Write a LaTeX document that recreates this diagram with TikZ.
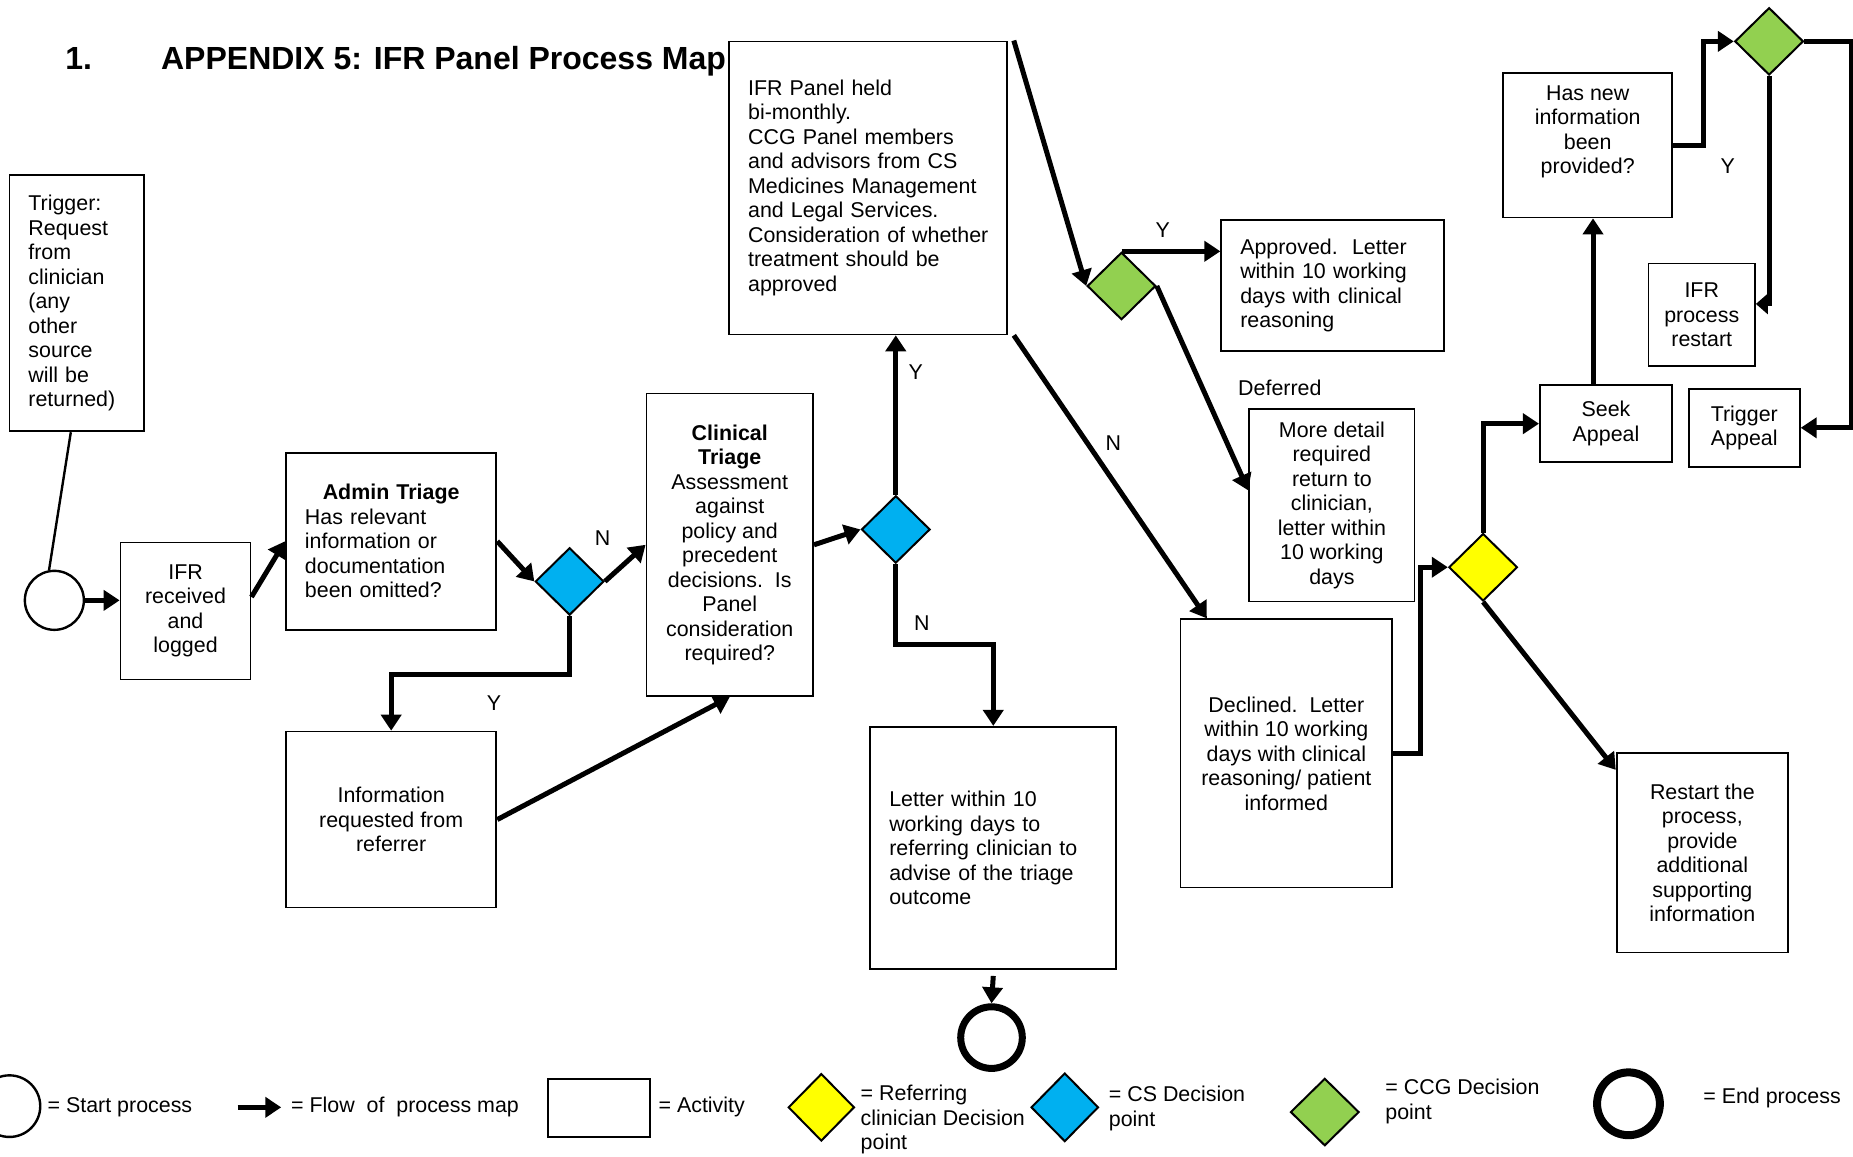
\documentclass[tikz,border=0pt]{standalone}
\usepackage{fontspec}
\setmainfont{Liberation Sans}
\usetikzlibrary{shapes.geometric,arrows.meta}
\definecolor{csblue}{HTML}{00B0F0}
\definecolor{ccggreen}{HTML}{92D050}
\definecolor{refyellow}{HTML}{FFFF00}
\tikzset{
  actbox/.style={draw, line width=0.9pt, rectangle, align=center, inner sep=0pt},
  lbox/.style={actbox, align=left, inner xsep=9.5pt, inner ysep=0pt},
  decision/.style={draw, line width=1pt, diamond, inner sep=0pt, minimum width=34.3pt, minimum height=33.7pt},
  flow/.style={line width=2.5pt, -{Triangle[length=8pt,width=10pt]}},
  thinline/.style={line width=1.2pt},
  titletext/.style={font=\fontsize{16}{19}\selectfont\bfseries, anchor=base west, inner sep=0pt},
}
\begin{document}
\begin{tikzpicture}[x={(0.5909pt,0pt)}, y={(0pt,-0.5909pt)},
  every node/.append style={font=\fontsize{10.7}{12.26}\selectfont, inner sep=0pt}]
\useasboundingbox (0,0) rectangle (1568,979);

% title
\node[titletext] (num) at (55,58.5) {1.};
\node[titletext] (title) at (136,58.5) {APPENDIX 5: IFR Panel Process Map};

% nodes
\node[lbox, text width=48.4pt, minimum height=128.2pt] (trigger) at (65,256.5)
  {Trigger:\\Request\\from\\clinician\\(any\\other\\source\\will be\\returned)};
\node[circle, draw, line width=1.2pt, minimum size=29.5pt] (start) at (46,508) {};
\node[actbox, minimum width=65pt, minimum height=68.5pt] (recv) at (157,517)
  {IFR\\received\\and\\logged};
\node[lbox, text width=86.2pt, minimum height=88.6pt] (admin) at (331,458)
  {\makebox[86.2pt]{\bfseries Admin Triage}\\Has relevant\\information or\\documentation\\been omitted?};
\node[decision, fill=csblue] (d1) at (482,492) {};
\node[actbox, minimum width=83.3pt, minimum height=151.3pt] (clin) at (617.5,461)
  {\textbf{Clinical}\\\textbf{Triage}\\Assessment\\against\\policy and\\precedent\\decisions.~~Is\\Panel\\consideration\\required?};
\node[decision, fill=csblue] (d2) at (758,448) {};
\node[lbox, text width=119.9pt, minimum height=146.5pt] (panel) at (734.5,159)
  {IFR Panel held\\bi-monthly.\\\mbox{CCG Panel members}\\\mbox{and advisors from CS}\\\mbox{Medicines Management}\\\mbox{and Legal Services.}\\\mbox{Consideration of whether}\\\mbox{treatment should be}\\approved};
\node[actbox, minimum width=105.2pt, minimum height=88pt] (info) at (331,693.5)
  {Information\\requested from\\referrer};
\node[lbox, text width=104pt, minimum height=121.1pt] (letter) at (840.5,717.5)
  {\mbox{Letter within 10}\\\mbox{working days to}\\\mbox{referring clinician to}\\\mbox{advise of the triage}\\outcome};
\node[circle, draw, line width=3.5pt, minimum size=30.8pt] (endc) at (839,878) {};
\node[decision, fill=ccggreen] (g1) at (949,242) {};
\node[lbox, text width=92.2pt, minimum height=65.6pt] (appr) at (1127.5,241.5)
  {\mbox{Approved.~~Letter}\\\mbox{within 10 working}\\\mbox{days with clinical}\\reasoning};
\node[actbox, minimum width=82.7pt, minimum height=96.3pt] (more) at (1127,427.5)
  {More detail\\required\\return to\\clinician,\\letter within\\10 working\\days};
\node[actbox, minimum width=105.8pt, minimum height=134.1pt] (decl) at (1088.5,637.5)
  {Declined.~~Letter\\within 10 working\\days with clinical\\reasoning/ patient\\informed};
\node[decision, fill=refyellow] (yd) at (1255,480) {};
\node[actbox, minimum width=66.2pt, minimum height=38.4pt] (seek) at (1359,358.5)
  {Seek\\Appeal};
\node[actbox, minimum width=84.5pt, minimum height=72.1pt] (hasnew) at (1343.5,123)
  {Has new\\information\\been\\provided?\\\strut};
\node[decision, fill=ccggreen] (g2) at (1497,35) {};
\node[actbox, minimum width=53.2pt, minimum height=51.4pt] (restart) at (1440,266.5)
  {IFR\\process\\restart};
\node[actbox, minimum width=55.5pt, minimum height=39pt] (trigapp) at (1476,362)
  {Trigger\\Appeal};
\node[actbox, minimum width=85.7pt, minimum height=99.9pt] (restart2) at (1440.5,721.5)
  {Restart the\\process,\\provide\\additional\\supporting\\information};

% connectors
\draw[thinline] ([xshift=-3pt]trigger.south) -- (start.100);
\draw[flow] (start.east) -- (start.east -| recv.west);
\draw[flow] ([yshift=7pt]recv.east) -- (admin.west);
\draw[flow] (admin.east) -- (d1.west);
\draw[flow] (d1.east) -- (clin.west);
\draw[flow] (d1.south) -- ++(0,49) -| (info.north);
\draw[flow] (info.east) -- (clin.south);
\draw[flow] (clin.east) -- (d2.west);
\draw[flow] (d2.north) -- (d2.north |- panel.south);
\draw[flow] (d2.south) -- ++(0,68) -| (letter.north);
\draw[flow] ([yshift=-3pt]letter.south) -- (endc.north);
\draw[flow] ([xshift=3pt]panel.north east) -- (g1.west);
\draw[flow] (g1.north) -- (g1.north -| appr.west);
\draw[flow] (g1.east) -- ([yshift=7.4pt]more.west);
\draw[flow] ([xshift=3pt]panel.south east) -- ([xshift=13.6pt]decl.north west);
\draw[flow] (decl.east) -- ++(23,0) |- (yd.west);
\draw[flow] (yd.north) |- (seek.west);
\draw[flow] (yd.south) -- ([yshift=-9pt]restart2.north west);
\coordinate (sk) at ([xshift=-6.5pt]seek.north);
\draw[flow] (sk) -- (sk |- hasnew.south);
\draw[flow] (hasnew.east) -- ++(26,0) |- (g2.west);
\draw[line width=2.5pt, -{Triangle[length=6pt,width=10pt]}] (g2.south) |- ([yshift=5.5pt]restart.east);
\draw[flow] (g2.east) -- ++(40,0) |- (trigapp.east);

% labels
\node (lN1) at (510,455) {N};
\node (lY1) at (418,595) {Y};
\node (lY2) at (775,315) {Y};
\node (lN2) at (780,527) {N};
\node (lY3) at (984,195) {Y};
\node (ldef) at (1083,328) {Deferred};
\node (lN3) at (942,375) {N};
\node (lY4) at (1462,141) {Y};

% legend
\node[circle, draw, line width=1.2pt, minimum size=30.8pt] (lgstart) at (8,936) {};
\node[anchor=west] (lgt1) at (40,937) {= Start process};
\coordinate (lga) at (201,937);
\coordinate (lgb) at (238,937);
\draw[flow] (lga) -- (lgb);
\node[anchor=west] (lgt2) at (246,937) {= Flow~~of~~process map};
\node[actbox, minimum width=50.8pt, minimum height=29pt] (lgbox) at (507,937.5) {};
\node[anchor=west] (lgt3) at (557,937) {= Activity};
\node[decision, fill=refyellow, minimum width=33.1pt, minimum height=33.7pt] (lgy) at (695,937) {};
\node[anchor=west, align=left] (lgt4) at (728,947.5) {= Referring\\clinician Decision\\point};
\node[decision, fill=csblue, minimum width=33.7pt, minimum height=34.3pt] (lgb2) at (901,937) {};
\node[anchor=west, align=left] (lgt5) at (938,938) {= CS Decision\\point};
\node[decision, fill=ccggreen] (lgg) at (1121,941) {};
\node[anchor=west, align=left] (lgt6) at (1172,932) {= CCG Decision\\point};
\node[circle, draw, line width=4pt, minimum size=31.4pt] (lgend) at (1378,934) {};
\node[anchor=west] (lgt7) at (1441,929) {= End process};
\end{tikzpicture}
\end{document}
